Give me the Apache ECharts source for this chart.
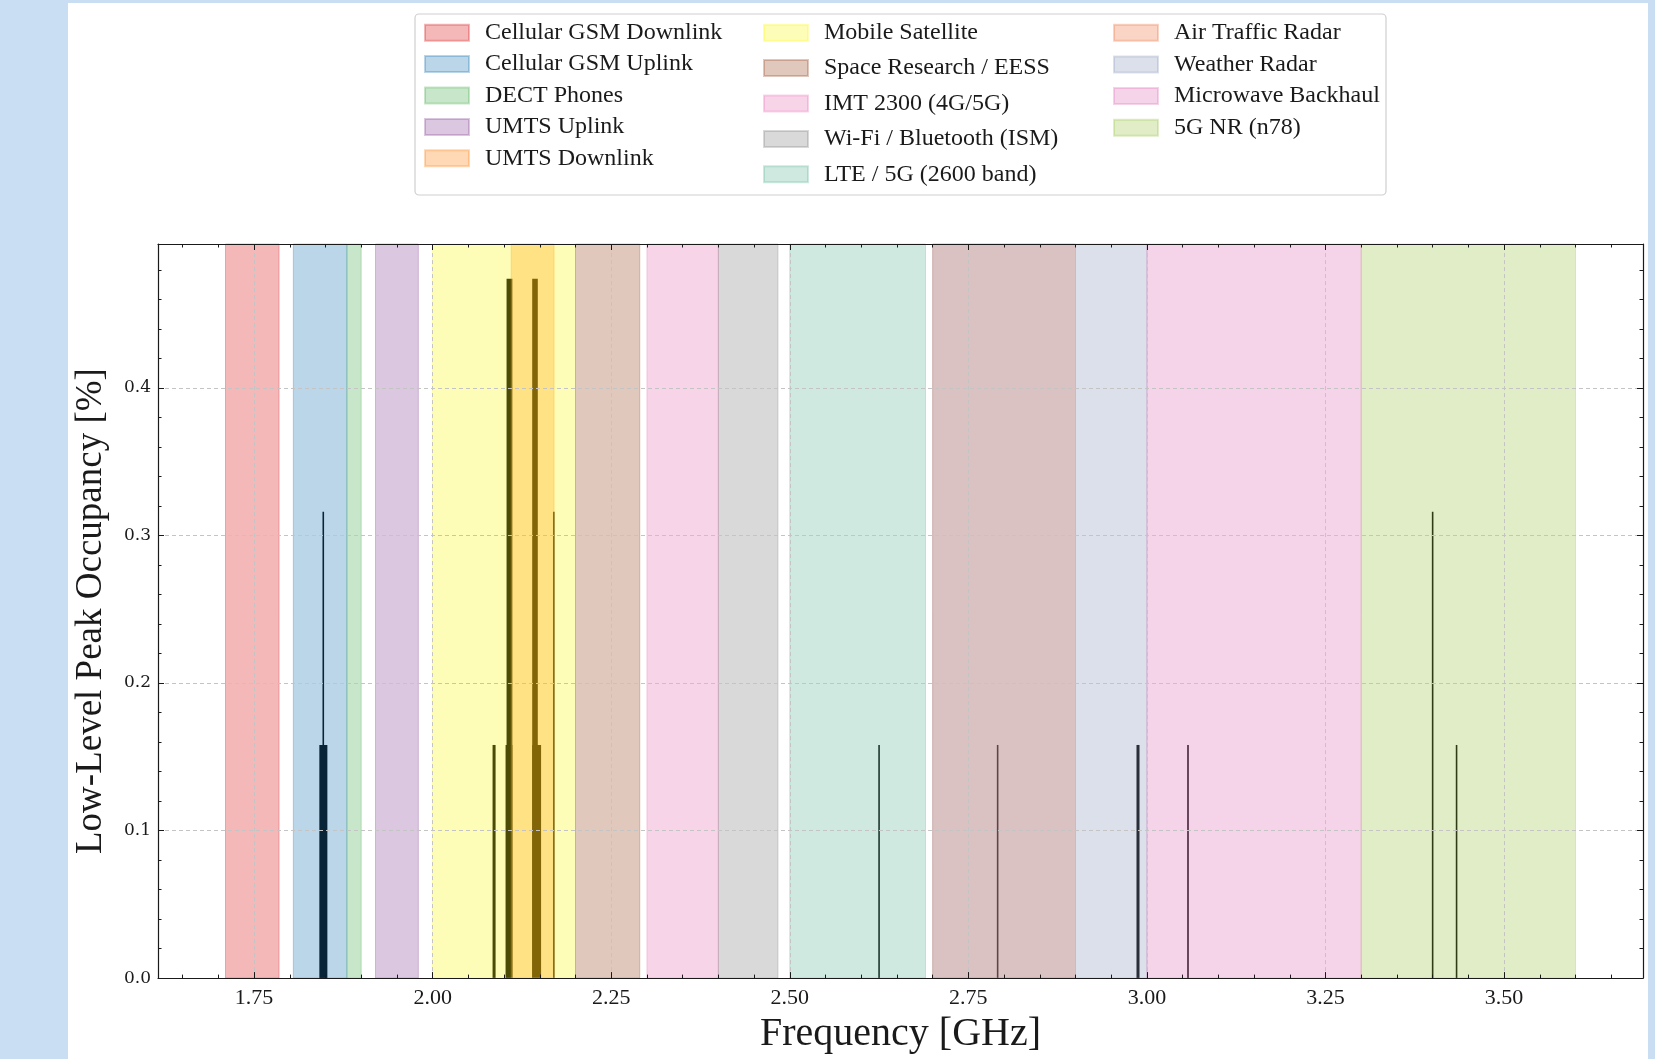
<!DOCTYPE html>
<html>
<head>
<meta charset="utf-8">
<script src="https://cdn.jsdelivr.net/npm/echarts@6/dist/echarts.min.js"></script>
<style>
  html, body { margin: 0; padding: 0; background: #c9def2; overflow: hidden; }
  #panel { position: absolute; left: 68px; top: 3px; width: 1580px; height: 1056px; background: #fff; }
  #chart { position: absolute; left: 0; top: 0; width: 1655px; height: 1059px; }
</style>
</head>
<body>
<div id="panel"></div>
<div id="chart"></div>
<script>
// frequency bands in GHz, drawn in this order (later ones on top)
const bandNames = [
  'Cellular GSM Downlink', 'Cellular GSM Uplink', 'DECT Phones', 'UMTS Uplink', 'UMTS Downlink',
  'Mobile Satellite', 'Space Research / EESS', 'IMT 2300 (4G/5G)', 'Wi-Fi / Bluetooth (ISM)', 'LTE / 5G (2600 band)',
  'Air Traffic Radar', 'Weather Radar', 'Microwave Backhaul', '5G NR (n78)'
];
const bandStart = [1.710, 1.805, 1.880, 1.920, 2.110, 2.000, 2.200, 2.300, 2.400, 2.500, 2.700, 2.700, 3.000, 3.300];
const bandEnd   = [1.785, 1.880, 1.900, 1.980, 2.170, 2.200, 2.290, 2.400, 2.4835, 2.690, 2.900, 3.000, 3.300, 3.600];

// peak occupancy readings: frequency span (GHz) and value (%)
const peakFrom  = [1.8469, 1.8425, 2.0850, 2.1046, 2.1032, 2.1405, 2.1405, 2.1696, 2.6250, 2.7910, 2.9865, 3.0575, 3.4000, 3.4335];
const peakTo    = [1.8469, 1.8515, 2.0870, 2.1105, 2.1105, 2.1461, 2.1507, 2.1696, 2.6250, 2.7910, 2.9885, 3.0575, 3.4000, 3.4335];
const peakValue = [0.316, 0.158, 0.158, 0.474, 0.158, 0.474, 0.158, 0.316, 0.158, 0.158, 0.158, 0.158, 0.316, 0.158];

const xTicks = [1.75, 2.00, 2.25, 2.50, 2.75, 3.00, 3.25, 3.50];
const yTicks = [0.0, 0.1, 0.2, 0.3, 0.4];

const X_MIN = 1.6155, X_MAX = 3.6945;
const Y_MIN = 0, Y_MAX = 0.4975;

// base colours, painted at 30% alpha like the original
const bandColors = [
  '#dc1418', '#1f77b4', '#48ac4b', '#874498', '#ff7f0e',
  '#fcf812', '#984823', '#e870b6', '#808080', '#5fb698',
  '#ee703a', '#8a98b9', '#de70b6', '#98c341'
];

function rgba(hex, a) {
  const n = parseInt(hex.slice(1), 16);
  return 'rgba(' + (n >> 16) + ',' + ((n >> 8) & 255) + ',' + (n & 255) + ',' + a + ')';
}

const xMinor = [];
for (let v = 1.65; v < X_MAX; v += 0.05) xMinor.push(+v.toFixed(2));
const yMinor = [];
for (let v = 0; v < Y_MAX; v += 0.02) yMinor.push(+v.toFixed(2));

const serif = 'Liberation Serif';
const ink = '#1a1a1a';

function tickAxis(pos, values, len, extra) {
  return Object.assign({
    type: 'value', position: pos, z: 5,
    axisLine: { show: false, onZero: false },
    axisTick: { show: true, inside: true, length: len, customValues: values, lineStyle: { color: ink, width: 1 } },
    axisLabel: { show: false },
    splitLine: { show: false }
  }, extra);
}

const chart = echarts.init(document.getElementById('chart'));

const bandSeries = bandNames.map((name, i) => ({
  name: name,
  type: 'custom',
  z: 2,
  silent: true,
  encode: { x: [0, 1] },
  itemStyle: { color: rgba(bandColors[i], 0.3), borderColor: rgba(bandColors[i], 0.3), borderWidth: 1 },
  data: [[bandStart[i], bandEnd[i]]],
  renderItem: function (params, api) {
    const a = api.coord([api.value(0), Y_MIN]);
    const b = api.coord([api.value(1), Y_MIN]);
    const top = params.coordSys.y;
    return {
      type: 'rect',
      shape: { x: a[0], y: top, width: b[0] - a[0], height: a[1] - top },
      style: { fill: rgba(bandColors[i], 0.3), stroke: rgba(bandColors[i], 0.3), lineWidth: 1 }
    };
  }
}));

const peakSeries = {
  name: 'peaks',
  type: 'custom',
  z: 1,
  silent: true,
  encode: { x: [0, 1], y: 2 },
  data: peakFrom.map((f, i) => [f, peakTo[i], peakValue[i]]),
  renderItem: function (params, api) {
    const a = api.coord([api.value(0), api.value(2)]);
    const b = api.coord([api.value(1), 0]);
    const w = 1.6;
    return {
      type: 'rect',
      shape: { x: a[0] - w / 2, y: a[1], width: b[0] - a[0] + w, height: b[1] - a[1] },
      style: { fill: '#000' }
    };
  }
};

const gridSeries = {
  name: 'grid',
  type: 'line',
  z: 0,
  silent: true,
  data: [],
  markLine: {
    silent: true,
    symbol: 'none',
    label: { show: false },
    lineStyle: { color: '#c4c4c4', width: 1, type: [4, 3] },
    data: xTicks.map(v => ({ xAxis: v })).concat(yTicks.filter(v => v > 0).map(v => ({ yAxis: v })))
  }
};

function legendCol(from, to, left, gap) {
  return {
    orient: 'vertical',
    left: left,
    top: 20.7,
    padding: 0,
    itemGap: gap,
    itemWidth: 44,
    itemHeight: 16,
    icon: 'rect',
    selectedMode: false,
    data: bandNames.slice(from, to),
    textStyle: { fontFamily: serif, fontSize: 24, color: ink, padding: [0, 0, 0, 11] }
  };
}

const spine = { show: true, onZero: false, lineStyle: { color: ink, width: 1.2 } };

chart.setOption({
  animation: false,
  graphic: [{
    type: 'rect', z: 0,
    shape: { x: 415, y: 14, width: 971, height: 181, r: 4 },
    style: { fill: '#fff', stroke: '#cfcfcf', lineWidth: 1.2 }
  }],
  legend: [
    legendCol(0, 5, 424, 7.4),
    legendCol(5, 10, 763, 11.4),
    legendCol(10, 14, 1113, 7.7)
  ],
  grid: { left: 158, top: 244, right: 12, bottom: 77, containLabel: false },
  xAxis: [
    {
      type: 'value', position: 'bottom', min: X_MIN, max: X_MAX, z: 5,
      axisLine: spine,
      axisTick: { show: true, inside: true, length: 6, customValues: xTicks, lineStyle: { color: ink } },
      axisLabel: { customValues: xTicks, formatter: v => v.toFixed(2), fontFamily: serif, fontSize: 22, color: ink, margin: 9 },
      splitLine: { show: false },
      name: 'Frequency [GHz]', nameLocation: 'middle', nameGap: 35,
      nameTextStyle: { fontFamily: serif, fontSize: 40, color: ink }
    },
    tickAxis('top', xTicks, 6, { min: X_MIN, max: X_MAX, axisLine: spine }),
    tickAxis('bottom', xMinor, 3.5, { min: X_MIN, max: X_MAX }),
    tickAxis('top', xMinor, 3.5, { min: X_MIN, max: X_MAX })
  ],
  yAxis: [
    {
      type: 'value', position: 'left', min: Y_MIN, max: Y_MAX, z: 5,
      axisLine: spine,
      axisTick: { show: true, inside: true, length: 6, customValues: yTicks, lineStyle: { color: ink } },
      axisLabel: { customValues: yTicks, formatter: v => v.toFixed(1), fontFamily: 'DejaVu Serif', fontSize: 17, color: ink, margin: 7 },
      splitLine: { show: false },
      name: 'Low-Level Peak Occupancy [%]', nameLocation: 'middle', nameGap: 48,
      nameTextStyle: { fontFamily: serif, fontSize: 37, color: ink }
    },
    tickAxis('right', yTicks, 6, { min: Y_MIN, max: Y_MAX, axisLine: spine }),
    tickAxis('left', yMinor, 3.5, { min: Y_MIN, max: Y_MAX }),
    tickAxis('right', yMinor, 3.5, { min: Y_MIN, max: Y_MAX })
  ],
  series: [gridSeries, peakSeries].concat(bandSeries)
});
</script>
</body>
</html>
